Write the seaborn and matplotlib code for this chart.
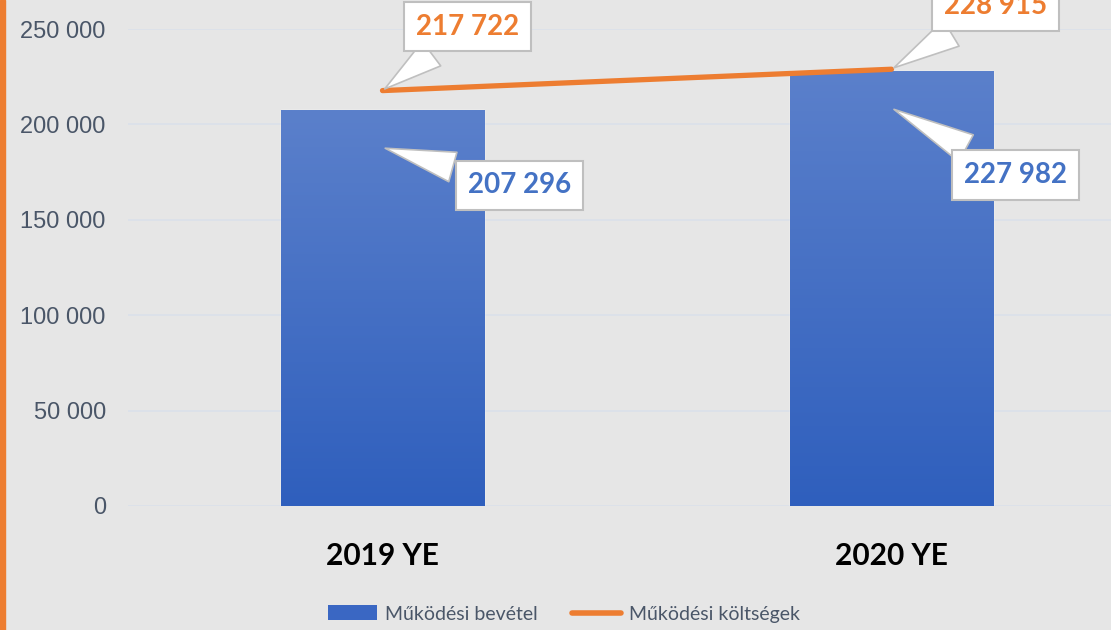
import numpy as np
import matplotlib
matplotlib.use("Agg")
import matplotlib.pyplot as plt
import matplotlib.transforms as mtransforms
from matplotlib.colors import LinearSegmentedColormap
from matplotlib.patches import Patch, Rectangle
from matplotlib.lines import Line2D
from matplotlib.ticker import FuncFormatter
import seaborn as sns

years = ["2019 YE", "2020 YE"]
revenue = [207296, 227982]
costs = [217722, 228915]
yticks = [0, 50000, 100000, 150000, 200000, 250000]

bg = "#e6e6e6"
orange = "#ed7d31"
blue_txt = "#4472c4"
grey_txt = "#4a5668"

sns.set_style("white")
plt.rcParams["font.family"] = ["Lato", "DejaVu Sans"]

fig = plt.figure(figsize=(11.11, 6.30), dpi=100, facecolor=bg)
ax = fig.add_axes([128 / 1111, 124 / 630, 1018 / 1111, 477 / 630])
ax.set_facecolor(bg)

sns.barplot(x=years, y=revenue, ax=ax, width=0.4, color="#4472c4", zorder=2)

# gradient fill on the bars
cmap = LinearSegmentedColormap.from_list("bar", ["#2f5fbd", "#5b80cb"])
grad = np.linspace(0, 1, 256).reshape(-1, 1)
for bar in ax.patches:
    x0, w, h = bar.get_x(), bar.get_width(), bar.get_height()
    im = ax.imshow(grad, extent=[x0, x0 + w, 0, h], origin="lower", aspect="auto",
                   cmap=cmap, zorder=2.1)
    im.set_clip_path(bar)

sns.lineplot(x=years, y=costs, ax=ax, color=orange, linewidth=3.8, sort=False, zorder=3)
ax.lines[0].set_solid_capstyle("round")

ax.set_xlim(-0.5, 1.5)
ax.set_ylim(0, 250000)
ax.set_yticks(yticks)
ax.yaxis.set_major_formatter(FuncFormatter(lambda v, p: f"{int(v):,}".replace(",", " ")))
ax.grid(axis="y", color="#dbe1ea", linewidth=1.2, zorder=0)
ax.set_axisbelow(True)
for s in ax.spines.values():
    s.set_visible(False)
ax.tick_params(axis="y", length=0, pad=16, labelsize=17, labelcolor=grey_txt)
ax.tick_params(axis="x", length=0, pad=26)
for lab in ax.get_yticklabels():
    lab.set_family(["Liberation Sans", "DejaVu Sans"])
for lab in ax.get_xticklabels():
    lab.set_fontsize(21.5)
    lab.set_fontweight("bold")
    lab.set_color("black")

box = dict(boxstyle="square,pad=0.42", fc="white", ec="#bfbfbf", lw=1.5)
wedge = dict(arrowstyle="wedge,tail_width=1.1,shrink_factor=0.5", fc="white",
             ec="#bfbfbf", lw=1.2)

# callouts for the line
for i, (v, off) in enumerate(zip(costs, [(85, 64), (104, 63)])):
    ax.annotate(f"{v:,}".replace(",", " "), xy=(i, v), xycoords="data",
                xytext=off, textcoords="offset pixels", ha="center", va="center",
                fontsize=20, fontweight="bold", color=orange, bbox=box,
                arrowprops=wedge, zorder=6, annotation_clip=False)

# callouts for the bars (tip sits a little inside the bar)
tip = mtransforms.offset_copy(ax.transData, fig=fig, x=0, y=-37, units="dots")
for i, (v, off) in enumerate(zip(revenue, [(137, -38), (124, -67)])):
    ax.annotate(f"{v:,}".replace(",", " "), xy=(i, v), xycoords=tip,
                xytext=off, textcoords="offset pixels", ha="center", va="center",
                fontsize=20, fontweight="bold", color=blue_txt, bbox=box,
                arrowprops=wedge, zorder=6, annotation_clip=False)

# orange strip at left edge
fig.add_artist(Rectangle((0, 0), 5 / 1111, 1, transform=fig.transFigure,
                         color=orange, zorder=10))

handles = [Patch(facecolor="#3a67c3", edgecolor="none"),
           Line2D([0], [0], color=orange, lw=4, solid_capstyle="round")]
fig.legend(handles, ["Működési bevétel", "Működési költségek"], loc="center",
           bbox_to_anchor=(564 / 1111, 1 - 614 / 630), ncol=2, frameon=False,
           fontsize=14, labelcolor=grey_txt, handlelength=2.5, handleheight=0.8,
           handletextpad=0.4, columnspacing=1.8)

fig.savefig("out.png", dpi=100, facecolor=bg)
